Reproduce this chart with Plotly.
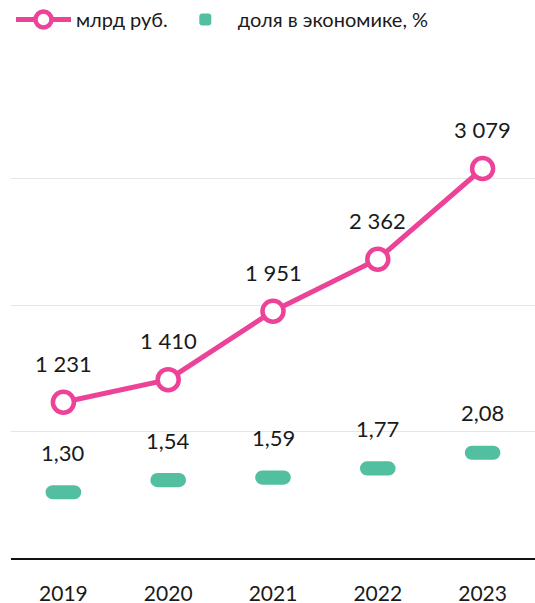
import plotly.graph_objects as go

years = [2019, 2020, 2021, 2022, 2023]
year_labels = ["2019", "2020", "2021", "2022", "2023"]
rub_bn = [1231, 1410, 1951, 2362, 3079]
share_pct = [1.30, 1.54, 1.59, 1.77, 2.08]

PINK = "#EC4399"
GREEN = "#52BFA0"
FONT = "Lato"
TXT = "#1a1a1a"

bar_h = 0.28  # visual thickness of the share marker in axis units

fig = go.Figure()

fig.add_trace(go.Bar(
    x=years, y=[bar_h] * len(years), base=[v - bar_h / 2 for v in share_pct],
    marker=dict(color=GREEN, line=dict(width=0)), width=0.34,
    name="доля в экономике, %", yaxis="y2", hoverinfo="skip",
))

fig.add_trace(go.Scatter(
    x=years, y=rub_bn, mode="lines+markers", name="млрд руб.",
    line=dict(color=PINK, width=5),
    marker=dict(size=21, color="white", line=dict(color=PINK, width=4.5)),
    yaxis="y", cliponaxis=False,
))

annotations = []
for x, v in zip(years, rub_bn):
    annotations.append(dict(x=x, y=v, xref="x", yref="y", text=f"{v:,}".replace(",", " "),
                            showarrow=False, yshift=39, font=dict(size=22, color=TXT, family=FONT)))
for x, v in zip(years, share_pct):
    annotations.append(dict(x=x, y=v, xref="x", yref="y2", text=f"{v:.2f}".replace(".", ","),
                            showarrow=False, yshift=40, font=dict(size=22, color=TXT, family=FONT)))

fig.update_layout(
    width=535, height=603,
    margin=dict(l=11, r=0, t=52, b=45, autoexpand=False),
    paper_bgcolor="white", plot_bgcolor="white",
    font=dict(family=FONT, size=20, color=TXT),
    barcornerradius=7,
    showlegend=True,
    legend=dict(orientation="h", x=0.0, xanchor="left", y=1.0, yanchor="top",
                yref="container", font=dict(size=20, color=TXT), traceorder="reversed",
                itemwidth=55, bgcolor="rgba(0,0,0,0)"),
    xaxis=dict(type="linear", range=[years[0] - 0.5, years[-1] + 0.5],
               tickvals=years, ticktext=year_labels, automargin=False,
               showgrid=False, showline=True, linecolor="#111", linewidth=1.5, zeroline=False,
               ticks="", tickfont=dict(size=21, color=TXT), ticklabelstandoff=16),
    yaxis=dict(range=[0, 4000], showgrid=True, gridcolor="#e6e6e6", gridwidth=1, automargin=False,
               showticklabels=False, zeroline=False, dtick=1000),
    yaxis2=dict(range=[0, 10], overlaying="y", side="right", showgrid=False, automargin=False,
                showticklabels=False, zeroline=False),
    annotations=annotations,
)

fig.write_html("out.html", config={"displayModeBar": False},
               post_script="document.body.style.margin='0';")
